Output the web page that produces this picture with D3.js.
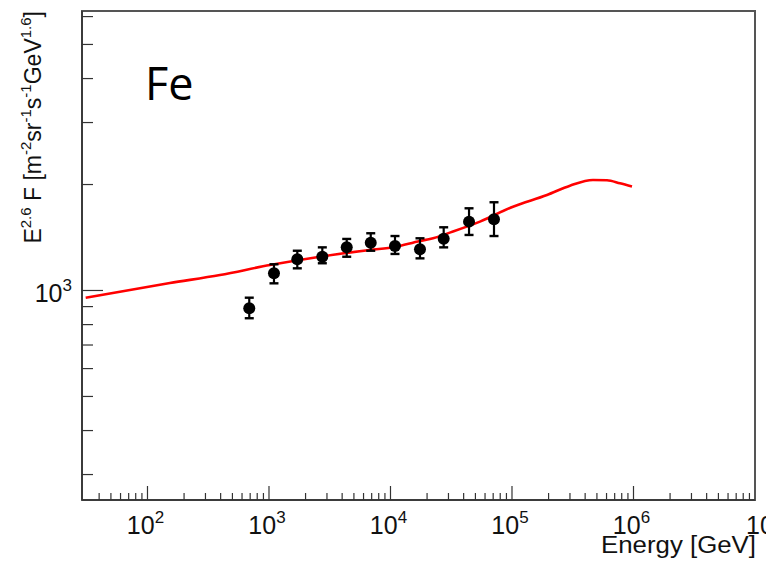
<!DOCTYPE html>
<html><head><meta charset="utf-8">
<script src="https://cdn.jsdelivr.net/npm/d3@7"></script>
<style>html,body{margin:0;padding:0;background:#fff;overflow:hidden}</style>
</head><body>
<svg id="c" width="766" height="562"></svg>
<script>
// Data points (Fe spectrum)
const energy  = [688, 1099, 1710, 2747, 4363, 6877, 10890, 17490, 27400, 44300, 71100];
const flux    = [890, 1119, 1227, 1247, 1326, 1367, 1338, 1309, 1403, 1569, 1594];
const errLow  = [834, 1048, 1156, 1195, 1247, 1297, 1270, 1234, 1326, 1438, 1428];
const errHigh = [954, 1187, 1297, 1326, 1401, 1454, 1428, 1407, 1512, 1712, 1781];
// Model curve
const modelE = [31, 153, 395, 1019, 2630, 6770, 10900, 17500, 21100, 32700, 54500, 101900, 194000, 300000, 464000, 605000, 774000, 972000];
const modelF = [954, 1050, 1107, 1181, 1247, 1303, 1329, 1383, 1400, 1471, 1569, 1730, 1867, 1985, 2060, 2056, 2016, 1975];
// Tick labels
const xMajorExp = [2, 3, 4, 5, 6, 7];
const yMajorExp = [3];
const xDomain = [Math.pow(10, 1.461), 1e7];
const yDomain = [Math.pow(10, 2.4048), Math.pow(10, 3.794)];
const panelLabel = "Fe";

const L = 82, R = 755, T = 11, B = 500;
const svg = d3.select("#c");
const x = d3.scaleLog().domain(xDomain).range([L, R]);
const y = d3.scaleLog().domain(yDomain).range([B, T]);

// frame
svg.append("rect").attr("x", L).attr("y", T).attr("width", R - L).attr("height", B - T)
  .attr("fill", "none").attr("stroke", "#555").attr("stroke-width", 2);
svg.append("line").attr("x1", L).attr("x2", L).attr("y1", T).attr("y2", B).attr("stroke", "#333").attr("stroke-width", 1.5);
svg.append("line").attr("x1", L).attr("x2", R).attr("y1", B).attr("y2", B).attr("stroke", "#333").attr("stroke-width", 1.5);

// x ticks
const xt = [];
for (let e = 1; e <= 6; e++) for (let m = 1; m <= 9; m++) {
  const v = m * Math.pow(10, e);
  if (v >= xDomain[0] && v <= xDomain[1] && x(v) - L > 6) xt.push({v, major: m === 1});
}
svg.append("g").selectAll("line").data(xt).join("line")
  .attr("x1", d => x(d.v)).attr("x2", d => x(d.v))
  .attr("y1", B).attr("y2", d => B - (d.major ? 14 : 7))
  .attr("stroke", "#333").attr("stroke-width", 1.2);
// y ticks
const yt = [];
for (let e = 2; e <= 3; e++) for (let m = 1; m <= 9; m++) {
  const v = m * Math.pow(10, e);
  if (v >= yDomain[0] && v <= yDomain[1]) yt.push({v, major: m === 1});
}
svg.append("g").selectAll("line").data(yt).join("line")
  .attr("x1", L).attr("x2", d => L + (d.major ? 21 : 11))
  .attr("y1", d => y(d.v)).attr("y2", d => y(d.v))
  .attr("stroke", "#333").attr("stroke-width", 1.2);

const font = "'Liberation Sans', Arial, Helvetica, sans-serif";
// x labels
const xl = svg.append("g").attr("font-family", font).attr("fill", "#111");
xMajorExp.forEach(e => {
  const last = e === xMajorExp[xMajorExp.length - 1];
  const t = xl.append("text").attr("x", last ? 746 : x(Math.pow(10, e)) - 2).attr("y", 534)
    .attr("text-anchor", last ? "start" : "middle").attr("font-size", 25);
  t.append("tspan").text("10");
  t.append("tspan").attr("dy", -11).attr("font-size", 17).text(String(e));
});
// y labels
yMajorExp.forEach(e => {
  const t = xl.append("text").attr("x", 72).attr("y", y(Math.pow(10, e)) + 12)
    .attr("text-anchor", "end").attr("font-size", 25);
  t.append("tspan").text("10");
  t.append("tspan").attr("dy", -11).attr("font-size", 17).text(String(e));
});

// axis titles
svg.append("text").attr("x", 601).attr("y", 553).attr("text-anchor", "start")
  .attr("textLength", 155).attr("lengthAdjust", "spacingAndGlyphs")
  .attr("font-family", font).attr("font-size", 23).attr("fill", "#111").text("Energy [GeV]");

const yt2 = svg.append("text").attr("transform", "translate(41,11) rotate(-90)")
  .attr("text-anchor", "end").attr("font-family", font).attr("font-size", 23).attr("fill", "#111");
const parts = [["E",0],["2.6",1],[" F [m",0],["-2",1],["sr",0],["-1",1],["s",0],["-1",1],["GeV",0],["1.6",1],["]",0]];
let prevSup = 0;
parts.forEach(([s, sup]) => {
  const ts = yt2.append("tspan").text(s);
  if (sup !== prevSup) ts.attr("dy", sup ? -10 : 10);
  if (sup) ts.attr("font-size", 15);
  prevSup = sup;
});

// model curve
const line = d3.line().x(d => x(d[0])).y(d => y(d[1])).curve(d3.curveMonotoneX);
svg.append("path").datum(modelE.map((e, i) => [e, modelF[i]]))
  .attr("d", line).attr("fill", "none").attr("stroke", "#f00").attr("stroke-width", 2.6);

// data points
const pts = svg.append("g");
energy.forEach((e, i) => {
  const cx = x(e);
  pts.append("line").attr("x1", cx).attr("x2", cx).attr("y1", y(errLow[i])).attr("y2", y(errHigh[i]))
    .attr("stroke", "#000").attr("stroke-width", 2.2);
  [errLow[i], errHigh[i]].forEach(v => {
    pts.append("line").attr("x1", cx - 4.5).attr("x2", cx + 4.5).attr("y1", y(v)).attr("y2", y(v))
      .attr("stroke", "#000").attr("stroke-width", 2.4);
  });
  pts.append("circle").attr("cx", cx).attr("cy", y(flux[i])).attr("r", 6).attr("fill", "#000");
});

// panel label
svg.append("text").attr("x", 145).attr("y", 100).attr("font-family", "'Open Sans', Lato, sans-serif")
  .attr("font-size", 45).attr("fill", "#000").text(panelLabel);
</script>
</body></html>
